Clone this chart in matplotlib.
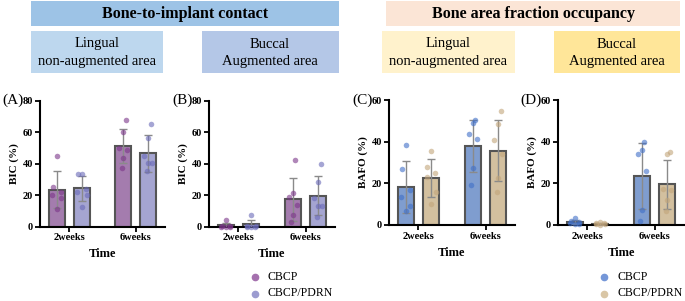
import matplotlib
matplotlib.use("Agg")
import matplotlib.pyplot as plt
from matplotlib.patches import Rectangle
from matplotlib.lines import Line2D
import numpy as np

plt.rcParams['font.family'] = ['Liberation Serif', 'DejaVu Serif']

# ---------------- data ----------------
groups = ["2weeks", "6weeks"]
series = ["CBCP", "CBCP/PDRN"]

# Panel A: BIC lingual (non-augmented)
A_mean_cbcp = [23.3, 51.2]
A_sd_cbcp = [11.8, 11.0]
A_mean_pdrn = [24.3, 46.5]
A_sd_pdrn = [8.0, 11.8]
A_pts_cbcp = [[45, 25, 22, 20, 18, 11], [68, 60, 50, 48.5, 43.5, 37]]
A_pts_pdrn = [[33.5, 33.5, 24, 22, 20, 12.5], [65, 56.5, 45, 40.5, 40.5, 35]]

# Panel B: BIC buccal (augmented)
B_mean_cbcp = [0.8, 17.3]
B_sd_cbcp = [1.6, 13.8]
B_mean_pdrn = [1.3, 19.5]
B_sd_pdrn = [3.0, 12.3]
B_pts_cbcp = [[4, 0.5, 0, 0, 0.3, 0], [42, 21, 18.5, 13.5, 7, 3]]
B_pts_pdrn = [[7.5, 0.3, 0, 0, 0.2, 0], [40, 28.5, 18, 13, 13, 6]]

# Panel C: BAFO lingual (non-augmented)
C_mean_cbcp = [18.2, 38.0]
C_sd_cbcp = [12.3, 12.5]
C_mean_pdrn = [22.5, 35.7]
C_sd_pdrn = [9.0, 14.8]
C_pts_cbcp = [[38.5, 27, 17, 13.5, 9, 6.5], [50.5, 49, 43.5, 41.5, 27.5, 19]]
C_pts_pdrn = [[35.5, 28, 25, 23, 16, 10], [54.5, 48.5, 41, 34, 22.5, 16]]

# Panel D: BAFO buccal (augmented)
D_mean_cbcp = [1.4, 23.5]
D_sd_cbcp = [1.1, 16.0]
D_mean_pdrn = [0.6, 19.6]
D_sd_pdrn = [0.5, 11.8]
D_pts_cbcp = [[3.3, 2, 1.5, 1, 0.5, 0.3], [40, 36, 34, 26, 7, 2]]
D_pts_pdrn = [[1.3, 1, 0.8, 0.4, 0.3, 0.2], [35, 34, 17.5, 17, 12, 6.5]]

# ---------------- style ----------------
W, H = 685, 301
fig = plt.figure(figsize=(W / 100, H / 100), dpi=100)

def fx(px):
    return px / W

def fy(py):
    return 1 - py / H

def box(x0, y0, x1, y1, color):
    fig.patches.append(Rectangle((fx(x0), fy(y1)), fx(x1) - fx(x0), fy(y0) - fy(y1),
                                 transform=fig.transFigure, facecolor=color,
                                 edgecolor='none', zorder=0))

# header boxes
box(31, 1, 339, 26, '#9DC3E6')
fig.text(fx(185), fy(14), "Bone-to-implant contact", ha='center', va='center',
         fontsize=11.5, fontweight='bold')
box(31, 31, 163, 73, '#BDD7EE')
fig.text(fx(97), fy(44), "Lingual", ha='center', va='center', fontsize=10.5)
fig.text(fx(97), fy(62), "non-augmented area", ha='center', va='center', fontsize=10.5)
box(202, 31, 339, 73, '#B4C7E7')
fig.text(fx(270), fy(44), "Buccal", ha='center', va='center', fontsize=10.5)
fig.text(fx(270), fy(62), "Augmented area", ha='center', va='center', fontsize=10.5)

box(386, 1, 680, 26, '#FBE5D6')
fig.text(fx(533), fy(14), "Bone area fraction occupancy", ha='center', va='center',
         fontsize=11.5, fontweight='bold')
box(382, 31, 515, 73, '#FFF2CC')
fig.text(fx(448), fy(44), "Lingual", ha='center', va='center', fontsize=10.5)
fig.text(fx(448), fy(62), "non-augmented area", ha='center', va='center', fontsize=10.5)
box(554, 31, 680, 73, '#FFE699')
fig.text(fx(617), fy(44), "Buccal", ha='center', va='center', fontsize=10.5)
fig.text(fx(617), fy(62), "Augmented area", ha='center', va='center', fontsize=10.5)

BIC_colors = dict(bar1='#A47CAE', bar2='#A5A5D1', pt1='#7B3589', pt2='#6A6AB8',
                  leg1='#A571AE', leg2='#9C9CD0')
BAFO_colors = dict(bar1='#7F9DCF', bar2='#D3C09F', pt1='#3F6FC8', pt2='#C2A57A',
                   leg1='#7597D8', leg2='#D9C6A6')

jitter = [[0.0, -0.06, 0.06, -0.07, 0.07, 0.0],
          [0.04, 0.0, -0.06, 0.06, 0.0, -0.02]]

def panel(rect, label, mean1, sd1, mean2, sd2, pts1, pts2, ymax, yticks, ylabel, cols):
    ax = fig.add_axes(rect)
    x = np.arange(len(groups))
    off, w = 0.19, 0.24
    ax.bar(x - off, mean1, w, color=cols['bar1'], edgecolor='#555555', linewidth=1.5, zorder=2)
    ax.bar(x + off, mean2, w, color=cols['bar2'], edgecolor='#555555', linewidth=1.5, zorder=2)
    ax.errorbar(x - off, mean1, yerr=sd1, fmt='none', ecolor='#8a8a8a', elinewidth=1,
                capsize=3, capthick=1, zorder=3)
    ax.errorbar(x + off, mean2, yerr=sd2, fmt='none', ecolor='#8a8a8a', elinewidth=1,
                capsize=3, capthick=1, zorder=3)
    for gi in range(len(groups)):
        for k, (v1, v2) in enumerate(zip(pts1[gi], pts2[gi])):
            j = jitter[gi][k]
            ax.scatter(gi - off + j, v1, s=16, color=cols['pt1'], alpha=0.6,
                       linewidths=0, zorder=4, clip_on=False)
            ax.scatter(gi + off + j, v2, s=16, color=cols['pt2'], alpha=0.6,
                       linewidths=0, zorder=4, clip_on=False)
    ax.set_xlim(-0.44, 1.44)
    ax.set_ylim(0, ymax)
    ax.set_yticks(yticks)
    ax.set_xticks(x)
    ax.set_xticklabels(groups)
    for s in ['top', 'right']:
        ax.spines[s].set_visible(False)
    for s in ['left', 'bottom']:
        ax.spines[s].set_linewidth(1.5)
    ax.tick_params(axis='both', width=1.3, length=3.5, labelsize=7.5, pad=1.5)
    for t in ax.get_xticklabels() + ax.get_yticklabels():
        t.set_fontweight('bold')
    ax.set_ylabel(ylabel, fontsize=8, fontweight='bold', labelpad=3)
    ax.set_xlabel("Time", fontsize=9, fontweight='bold', labelpad=4)
    # panel label left of the y tick labels
    bb = rect
    fig.text(bb[0] - fx(16), bb[1] + bb[3], label, ha='right', va='center',
             fontsize=11)
    return ax

hA = 0.418
panel([fx(40), fy(226.5), fx(165) - fx(40), hA], "(A)", A_mean_cbcp, A_sd_cbcp,
      A_mean_pdrn, A_sd_pdrn, A_pts_cbcp, A_pts_pdrn, 80, [0, 20, 40, 60, 80],
      "BIC (%)", BIC_colors)
panel([fx(209), fy(226.5), fx(335) - fx(209), hA], "(B)", B_mean_cbcp, B_sd_cbcp,
      B_mean_pdrn, B_sd_pdrn, B_pts_cbcp, B_pts_pdrn, 80, [0, 20, 40, 60, 80],
      "BIC (%)", BIC_colors)
panel([fx(389), fy(225), fx(515) - fx(389), fy(100) - fy(225)], "(C)", C_mean_cbcp, C_sd_cbcp,
      C_mean_pdrn, C_sd_pdrn, C_pts_cbcp, C_pts_pdrn, 60, [0, 20, 40, 60],
      "BAFO (%)", BAFO_colors)
panel([fx(558), fy(225), fx(684) - fx(558), fy(100) - fy(225)], "(D)", D_mean_cbcp, D_sd_cbcp,
      D_mean_pdrn, D_sd_pdrn, D_pts_cbcp, D_pts_pdrn, 60, [0, 20, 40, 60],
      "BAFO (%)", BAFO_colors)

def legend(xm, cols):
    for i, (name, c) in enumerate(zip(series, [cols['leg1'], cols['leg2']])):
        yy = 277 + 16.5 * i
        fig.add_artist(Line2D([fx(xm)], [fy(yy)], marker='o', markersize=4.5, color=c,
                              linestyle='none', transform=fig.transFigure))
        fig.text(fx(xm + 13), fy(yy), name, ha='left', va='center', fontsize=8.5)

legend(255, BIC_colors)
legend(604, BAFO_colors)

fig.savefig("out.png", dpi=100)
